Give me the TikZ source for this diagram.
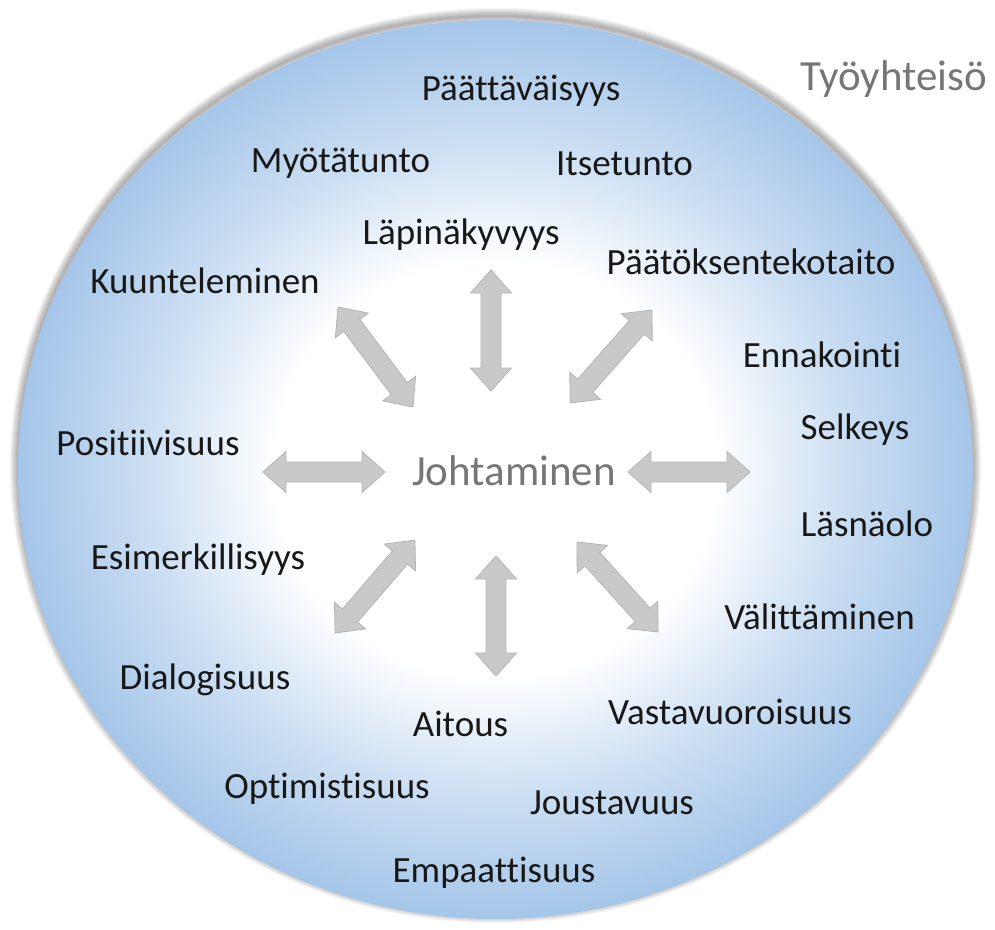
\documentclass[tikz,border=0pt]{standalone}
\usepackage{fontspec}
\setmainfont{Carlito}[Ligatures={NoCommon,NoContextual}]
\usetikzlibrary{calc}

\definecolor{rimblue}{RGB}{165,198,233}
\colorlet{midblue}{rimblue!55!white}
\definecolor{arrowgray}{RGB}{201,201,201}
\definecolor{arrowedge}{RGB}{180,180,180}
\definecolor{titlegray}{RGB}{118,118,118}
\definecolor{wordink}{RGB}{24,24,24}

% white centre fading to blue at the rim (rim = 25bp)
\pgfdeclareradialshading{fieldfade}{\pgfpoint{0bp}{0bp}}{%
  color(0bp)=(white); color(11.5bp)=(white); color(18bp)=(midblue);
  color(25bp)=(rimblue); color(50bp)=(rimblue)}

\tikzset{
  word/.style={font=\fontsize{37}{40}\selectfont, text=wordink, inner sep=0pt, anchor=base},
  title/.style={font=\fontsize{43}{46}\selectfont, text=titlegray, inner sep=0pt, anchor=base},
  arrowbody/.style={fill=arrowgray, draw=arrowedge, line width=0.8pt, line join=miter},
  % double-headed block arrow, #1 = half length
  pics/dblarrow/.style={code={
    \path[arrowbody] (-#1,0) -- (-#1+23,20.5) -- (-#1+23,10) -- (#1-23,10)
      -- (#1-23,20.5) -- (#1,0) -- (#1-23,-20.5) -- (#1-23,-10)
      -- (-#1+23,-10) -- (-#1+23,-20.5) -- cycle;}}
}

\begin{document}
\begin{tikzpicture}[x=1pt,y=-1pt]
\useasboundingbox (0,0) rectangle (995,929);

% soft shadow around the community circle, heavier along the top
\foreach \w in {2,4,...,16}
  \draw[black, opacity=0.045, line width=\w pt]
    (495.5,465.5) ellipse [x radius=477.5pt, y radius=449.5pt];
\shade[shading=fieldfade] (495.5,469.5) ellipse [x radius=477.5pt, y radius=449.5pt];

% arrows around the centre
\pic (aul) [rotate=-53.13] at (375.5,357) {dblarrow=62.5};
\pic (atop) [rotate=90] at (491,330.5) {dblarrow=60.5};
\pic (aur) [rotate=48.6] at (611,356.5) {dblarrow=62};
\pic (aleft) at (324,472) {dblarrow=61};
\pic (aright) at (689,472) {dblarrow=61};
\pic (all) [rotate=49.3] at (375,586.5) {dblarrow=61.3};
\pic (abot) [rotate=90] at (496,616) {dblarrow=60};
\pic (alr) [rotate=-48] at (617.5,587) {dblarrow=60.5};

% centre and corner titles
\node[title] (lead) at (514,485) {Johtaminen};
\node[title, anchor=base west] (community) at (800,90) {Työyhteisö};

% qualities
\node[word] (w01) at (521,100) {Päättäväisyys};
\node[word] (w02) at (340.5,172) {Myötätunto};
\node[word] (w03) at (624.5,175) {Itsetunto};
\node[word] (w04) at (461,244) {Läpinäkyvyys};
\node[word] (w05) at (751,274) {Päätöksentekotaito};
\node[word] (w06) at (205,293) {Kuunteleminen};
\node[word] (w07) at (822,367) {Ennakointi};
\node[word] (w08) at (855,439) {Selkeys};
\node[word] (w09) at (148,455) {Positiivisuus};
\node[word] (w10) at (867,536) {Läsnäolo};
\node[word] (w11) at (198,569) {Esimerkillisyys};
\node[word] (w12) at (819.5,629) {Välittäminen};
\node[word] (w13) at (205,689) {Dialogisuus};
\node[word] (w14) at (730,724) {Vastavuoroisuus};
\node[word] (w15) at (460.5,736) {Aitous};
\node[word] (w16) at (327,798) {Optimistisuus};
\node[word] (w17) at (612,814) {Joustavuus};
\node[word] (w18) at (494,882) {Empaattisuus};
\end{tikzpicture}
\end{document}
